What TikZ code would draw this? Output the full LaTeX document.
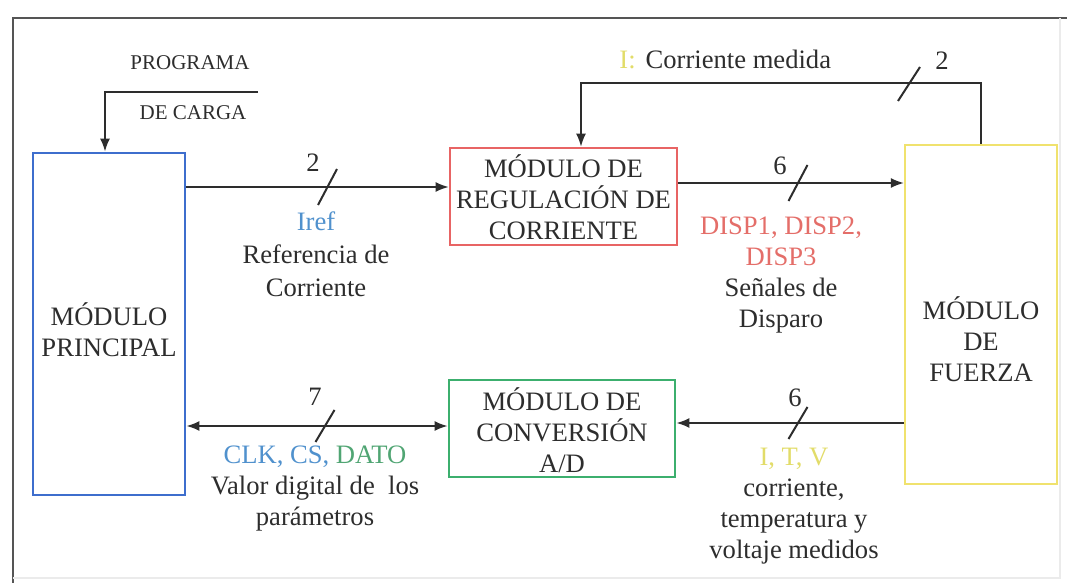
\documentclass[tikz,border=0pt]{standalone}
\usepackage{fontspec}
\setmainfont{Liberation Serif}
\usetikzlibrary{arrows.meta,calc}

\definecolor{ink}{RGB}{45,45,45}
\definecolor{wire}{RGB}{45,45,45}
\definecolor{frameC}{RGB}{85,85,85}
\definecolor{blueBox}{RGB}{62,110,205}
\definecolor{redBox}{RGB}{232,100,100}
\definecolor{yellowBox}{RGB}{240,226,110}
\definecolor{greenBox}{RGB}{60,175,110}
\definecolor{blueTxt}{RGB}{80,145,205}
\definecolor{redTxt}{RGB}{228,110,105}
\definecolor{yellowTxt}{RGB}{226,220,105}
\definecolor{greenTxt}{RGB}{80,165,115}

\tikzset{
  modbox/.style={draw=#1, line width=1.4pt, fill=white, inner sep=0pt},
  txt/.style={text=ink, align=center, inner sep=0pt,
    font=\fontsize{13.3}{15.5}\selectfont},
  smalltxt/.style={text=ink, align=center, inner sep=0pt,
    font=\fontsize{10.5}{12}\selectfont},
  arr/.style={draw=wire, line width=0.9pt, -{Latex[length=6.5pt,width=5pt]}},
  biarr/.style={draw=wire, line width=0.9pt,
    {Latex[length=6.5pt,width=5pt]}-{Latex[length=6.5pt,width=5pt]}},
  busslash/.style={draw=wire, line width=1pt},
}

\begin{document}
\begin{tikzpicture}[x=0.5pt,y=-0.5pt]
\useasboundingbox (0,0) rectangle (1067,583);

% outer frame
\draw[frameC, line width=1pt] (1067,18) -- (13,18) -- (13,583);
\draw[black!8, line width=0.6pt] (13,578) -- (1060,578) -- (1060,18);

% module boxes
\node[modbox=blueBox, minimum width=76pt, minimum height=171pt] (main) at (109,324) {};
\node[modbox=redBox, line width=1.3pt, minimum width=113.5pt, minimum height=48.5pt] (reg) at (563.5,196.5) {};
\node[modbox=yellowBox, line width=1.1pt, minimum width=76pt, minimum height=169.5pt] (fuerza) at (981,314.5) {};
\node[modbox=greenBox, minimum width=113pt, minimum height=48.5pt] (adc) at (562,428.5) {};

% box titles
\node[txt] (mainT) at (109,330) {MÓDULO\\PRINCIPAL};
\node[txt] (regT) at (563.5,197) {MÓDULO DE\\REGULACIÓN DE\\CORRIENTE};
\node[txt] (fuerzaT) at (981,339) {MÓDULO\\DE\\FUERZA};
\node[txt] (adcT) at (562,430) {MÓDULO DE\\CONVERSIÓN\\A/D};

% load program input
\node[smalltxt] (prog1) at (190,63) {PROGRAMA};
\node[smalltxt] (prog2) at (193,113) {DE CARGA};
\coordinate (progR) at (258,92);
\coordinate (progC) at (105,92);
\draw[arr] (progR) -- (progC) -- (progC |- main.north);

% current reference
\coordinate (irefY) at (0,187);
\draw[arr] (main.east |- irefY) -- (reg.west |- irefY);
\coordinate (s1) at (327.5,187);
\draw[busslash] ($(s1)+(-9.5,18)$) -- ($(s1)+(9.5,-18)$);
\node[txt] (n1) at (313,163) {2};
\node[txt, font=\fontsize{13.3}{16.5}\selectfont] (irefL) at (316,254)
  {\textcolor{blueTxt}{Iref}\\Referencia de\\Corriente};

% firing signals
\coordinate (dispY) at (0,183);
\draw[arr] (reg.east |- dispY) -- (fuerza.west |- dispY);
\coordinate (s2) at (798,183);
\draw[busslash] ($(s2)+(-9.5,18)$) -- ($(s2)+(9.5,-18)$);
\node[txt] (n2) at (780,166) {6};
\node[txt] (dispL) at (781,275)
  {\textcolor{redTxt}{DISP1, DISP2,}\\\textcolor{redTxt}{DISP3}\\Señales de\\Disparo};

% measured current feedback
\coordinate (fbR) at (fuerza.north |- 0,83);
\coordinate (fbL) at (581,83);
\draw[arr] (fuerza.north) -- (fbR) -- (fbL) -- (fbL |- reg.north);
\coordinate (s3) at (909,84);
\draw[busslash] ($(s3)+(-11,17)$) -- ($(s3)+(11,-17)$);
\node[txt] (n3) at (942,61) {2};
\node[txt, anchor=west] (fbL1) at (619,59)
  {\textcolor{yellowTxt}{I:}\hspace{5pt}Corriente medida};

% A/D data bus
\coordinate (busY) at (0,426);
\draw[biarr] (main.east |- busY) -- (adc.west |- busY);
\coordinate (s4) at (325,426);
\draw[busslash] ($(s4)+(-9.5,16)$) -- ($(s4)+(9.5,-16)$);
\node[txt] (n4) at (315,397) {7};
\node[txt] (busL) at (315,489)
  {\textcolor{blueTxt}{CLK, CS,} \textcolor{greenTxt}{DATO}\\Valor digital de~~los\\parámetros};

% measured quantities
\coordinate (measY) at (0,423);
\draw[arr] (fuerza.west |- measY) -- (adc.east |- measY);
\coordinate (s5) at (798,423);
\draw[busslash] ($(s5)+(-9.5,16)$) -- ($(s5)+(9.5,-16)$);
\node[txt] (n5) at (795,398) {6};
\node[txt] (measL) at (794,506)
  {\textcolor{yellowTxt}{I, T, V}\\corriente,\\temperatura y\\voltaje medidos};
\end{tikzpicture}
\end{document}
